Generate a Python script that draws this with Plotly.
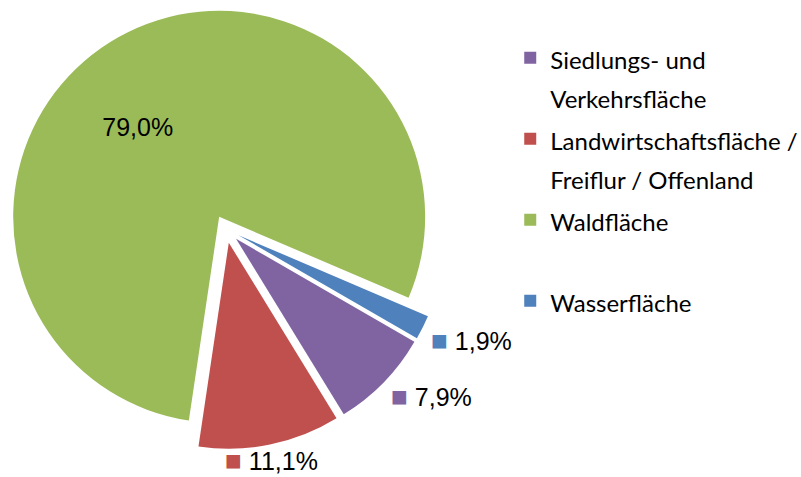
import math
import plotly.graph_objects as go

categories = ["Siedlungs- und Verkehrsfläche",
              "Landwirtschaftsfläche / Freiflur / Offenland",
              "Waldfläche",
              "Wasserfläche"]
legend_lines = [["Siedlungs- und", "Verkehrsfläche"],
                ["Landwirtschaftsfläche /", "Freiflur / Offenland"],
                ["Waldfläche"],
                ["Wasserfläche"]]
shares = [7.9, 11.1, 79.0, 1.9]
colors = ["#8064A2", "#C0504D", "#9BBB59", "#4F81BD"]
label_positions = ["outside", "outside", "inside", "outside"]

W, H = 801, 477
DOM_X = [0.0075, 0.5568]
DOM_Y = [0.0587, 0.9811]
PULL = 0.068
ROTATION = 120
LABEL_GAP = 7
LABEL_PAD = 8
LEG_SIZE = 24
LABEL_FONT = dict(family="Liberation Sans", size=25, color="#000000")


def legend_label(lines):
    padded = lines + ["&nbsp;"] * (2 - len(lines))
    return "<br>".join(
        f"<span style='font-size:{LEG_SIZE}px'>{t}</span>" for t in padded)


def fmt(v):
    return f"{v:.1f}".replace(".", ",") + "%"


labels = [legend_label(l) for l in legend_lines]

templates = []
for pos in label_positions:
    if pos == "inside":
        templates.append("%{value:.1f}%" + "&nbsp;" * 9)
    else:
        templates.append("")

# outside-end data labels, placed from the slice geometry (Plotly pie conventions)
box_w = W * (DOM_X[1] - DOM_X[0])
box_h = H * (DOM_Y[1] - DOM_Y[0])
r = min(box_w, box_h) / (2 + 2 * PULL)
cx = W * (DOM_X[0] + DOM_X[1]) / 2
cy = H * (1 - DOM_Y[0]) - box_h / 2
total = sum(shares)
annotations = []
cum = 0.0
for v, pos, col in zip(shares, label_positions, colors):
    mid = ROTATION + (cum + v / 2) / total * 360
    cum += v
    if pos != "outside":
        continue
    a = math.radians(mid)
    dx, dy = math.sin(a), -math.cos(a)
    R = r * (1 + PULL) + LABEL_GAP
    px, py = cx + R * dx, cy + R * dy
    xanchor = "left" if dx > 0.3 else ("right" if dx < -0.3 else "center")
    yanchor = "top" if dy > 0.3 else ("bottom" if dy < -0.3 else "middle")
    yshift = {"top": LABEL_PAD, "bottom": -LABEL_PAD, "middle": 0}[yanchor]
    annotations.append(dict(
        x=px / W, y=1 - py / H, xref="paper", yref="paper",
        xanchor=xanchor, yanchor=yanchor, yshift=yshift, showarrow=False,
        text=f"<span style='color:{col};font-size:28px'>■</span> {fmt(v)}",
        font=LABEL_FONT,
    ))

fig = go.Figure(go.Pie(
    labels=labels,
    values=shares,
    customdata=categories,
    sort=False,
    direction="clockwise",
    rotation=ROTATION,
    pull=PULL,
    marker=dict(colors=colors, line=dict(width=0)),
    texttemplate=templates,
    textposition=["inside" if p == "inside" else "none" for p in label_positions],
    insidetextorientation="horizontal",
    textfont=LABEL_FONT,
    hovertemplate="%{customdata}: %{value:.1f}%<extra></extra>",
    domain=dict(x=DOM_X, y=DOM_Y),
))

fig.update_layout(
    width=W, height=H,
    margin=dict(l=0, r=0, t=0, b=0, autoexpand=False),
    paper_bgcolor="white",
    separators=",.",
    showlegend=True,
    annotations=annotations,
    legend=dict(
        x=0.637, y=0.9335, xanchor="left", yanchor="top",
        valign="top",
        font=dict(family="Lato", size=30, color="#000000"),
        bgcolor="rgba(0,0,0,0)",
    ),
)

fig.write_html("out.html", config={"displayModeBar": False},
               post_script="document.body.style.margin='0';")
